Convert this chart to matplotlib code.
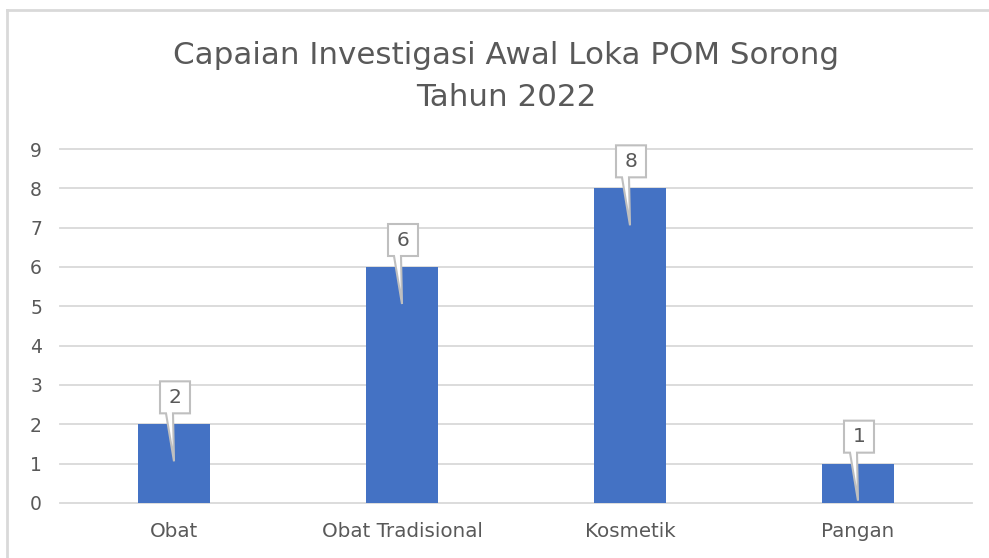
import matplotlib.pyplot as plt
from matplotlib.patches import Polygon
from matplotlib.lines import Line2D

# data
categories = ['Obat', 'Obat Tradisional', 'Kosmetik', 'Pangan']
values = [2, 6, 8, 1]
yticks = list(range(0, 10))

W, H = 989, 558
fig = plt.figure(figsize=(W / 100, H / 100), dpi=100)
fig.patch.set_facecolor('white')

# axes placed in pixel terms: x 60..972, y 149..503 (image coords)
ax = fig.add_axes([60 / W, (H - 503) / H, 912 / W, 354 / H])
ax.bar(range(len(categories)), values, width=0.316, color='#4472C4', zorder=2)
ax.set_xlim(-0.5, len(categories) - 0.5)
ax.set_ylim(0, 9)
ax.set_yticks(yticks)
ax.set_xticks(range(len(categories)))
ax.set_xticklabels(categories)
for yv in yticks:
    ax.axhline(yv, color='#D9D9D9', linewidth=1.3, zorder=0, clip_on=False)
for s in ax.spines.values():
    s.set_visible(False)
ax.tick_params(axis='x', length=0, labelsize=14.3, colors='#595959', pad=14)
ax.tick_params(axis='y', length=0, labelsize=13.5, colors='#595959', pad=13)

title_x = 506 / W
fig.text(title_x, (H - 55) / H, 'Capaian Investigasi Awal Loka POM Sorong',
         ha='center', va='center', fontsize=22.3, color='#595959')
fig.text(title_x, (H - 97) / H, 'Tahun 2022',
         ha='center', va='center', fontsize=22.3, color='#595959')

# chart frame (left and top)
fig.add_artist(Line2D([7 / W, 7 / W], [0, (H - 10) / H], color='#D9D9D9', lw=2))
fig.add_artist(Line2D([7 / W, 1], [(H - 10) / H, (H - 10) / H], color='#D9D9D9', lw=2))

# callout labels drawn in pixel space
fig.canvas.draw()
for i, v in enumerate(values):
    px, py = ax.transData.transform((i, v))
    bl, br = px - 14, px + 16
    bb = py + 11
    bt = bb + 32
    tip = (px, py - 37)
    pts = [(bl, bb), (px - 8, bb), tip, (px - 1, bb), (br, bb), (br, bt), (bl, bt)]
    poly = Polygon(pts, closed=True, transform=None, facecolor='white',
                   edgecolor='#BFBFBF', linewidth=1.5, zorder=5)
    fig.add_artist(poly)
    fig.text((bl + br) / 2 / W, (bb + bt) / 2 / H, str(v), ha='center', va='center',
             fontsize=14.5, color='#595959', zorder=6)

fig.savefig('out.png', dpi=100)
